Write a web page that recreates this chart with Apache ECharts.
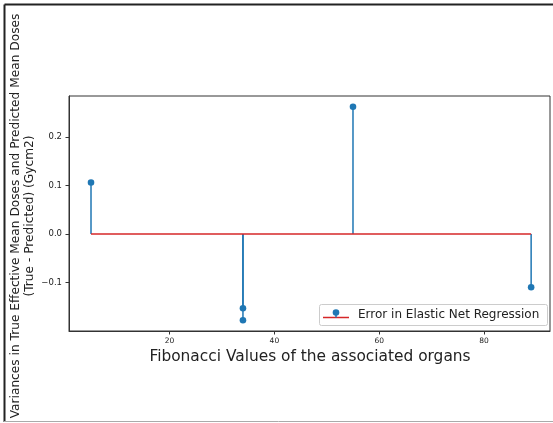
<!DOCTYPE html>
<html>
<head>
<meta charset="utf-8">
<script src="https://cdn.jsdelivr.net/npm/echarts@6/dist/echarts.min.js"></script>
<style>
  html, body { margin: 0; padding: 0; background: #fff; }
  #chart { width: 553px; height: 423px; }
</style>
</head>
<body>
<div id="chart"></div>
<script>
// Organ positions on the Fibonacci axis and the residual (true - predicted) for each
const fibValues = [5, 34, 34, 55, 89];
const residuals = [0.106, -0.153, -0.178, 0.262, -0.110];
const xTicks = [20, 40, 60, 80];
const yTicks = [-0.1, 0.0, 0.1, 0.2];
const seriesName = 'Error in Elastic Net Regression';

const STEM = '#1f77b4';
const BASE = '#d62728';
const FONT = 'DejaVu Sans';

const chart = echarts.init(document.getElementById('chart'), null, { renderer: 'canvas' });

const stemData = fibValues.map((x, i) => [x, residuals[i]]);
const baseData = [[fibValues[0], 0], [fibValues[fibValues.length - 1], 0]];

const fmtY = v => (v < 0 ? '\u2212' : '') + Math.abs(v).toFixed(1);

chart.setOption({
  animation: false,
  backgroundColor: '#fff',
  grid: {
    left: 69, top: 96, width: 481, height: 235,
    show: true, borderColor: '#333', borderWidth: 1, backgroundColor: 'transparent'
  },
  xAxis: {
    type: 'value', min: 0.8, max: 92.6,
    splitLine: { show: false },
    axisLine: { show: true, onZero: false, lineStyle: { color: '#333', width: 1 } },
    axisTick: { show: true, length: 3.5, customValues: xTicks, lineStyle: { color: '#333' } },
    axisLabel: { customValues: xTicks, fontFamily: FONT, fontSize: 7.5, color: '#222', margin: 6 }
  },
  yAxis: {
    type: 'value', min: -0.2, max: 0.284,
    splitLine: { show: false },
    axisLine: { show: true, onZero: false, lineStyle: { color: '#333', width: 1 } },
    axisTick: { show: true, length: 3.5, customValues: yTicks, lineStyle: { color: '#333' } },
    axisLabel: { customValues: yTicks, formatter: fmtY, fontFamily: FONT, fontSize: 8.5, color: '#222', margin: 7 }
  },
  series: [
    {
      // zero baseline spanning the first to the last organ
      type: 'line', data: baseData, symbol: 'none', silent: true, z: 3,
      lineStyle: { color: BASE, width: 1.5 }
    },
    {
      // stems with a dot at each residual
      name: seriesName,
      type: 'custom', data: stemData, z: 2,
      renderItem: (params, api) => {
        const top = api.coord([api.value(0), api.value(1)]);
        const bot = api.coord([api.value(0), 0]);
        return {
          type: 'group',
          children: [
            { type: 'line', shape: { x1: bot[0], y1: bot[1], x2: top[0], y2: top[1] },
              style: { stroke: STEM, lineWidth: 1.5 } },
            { type: 'circle', shape: { cx: top[0], cy: top[1], r: 3.3 },
              style: { fill: STEM }, z2: 10 }
          ]
        };
      }
    }
  ],
  graphic: [
    // outer frame
    { type: 'line', shape: { x1: 4.5, y1: 4.5, x2: 553, y2: 4.5 }, style: { stroke: '#222', lineWidth: 2 } },
    { type: 'line', shape: { x1: 4.5, y1: 4.5, x2: 4.5, y2: 422 }, style: { stroke: '#222', lineWidth: 2 } },
    { type: 'line', shape: { x1: 4, y1: 421.5, x2: 553, y2: 421.5 }, style: { stroke: '#aaa', lineWidth: 1 } },
    // y axis title (two lines)
    { type: 'text', x: 16, y: 216, rotation: Math.PI / 2,
      style: { text: 'Variances in True Effective Mean Doses and Predicted Mean Doses', fontFamily: FONT,
               fontSize: 12.2, fill: '#222', align: 'center', verticalAlign: 'middle' } },
    { type: 'text', x: 30, y: 216, rotation: Math.PI / 2,
      style: { text: '(True - Predicted) (Gycm2)', fontFamily: FONT,
               fontSize: 12.2, fill: '#222', align: 'center', verticalAlign: 'middle' } },
    // x axis title
    { type: 'text', x: 310, y: 357,
      style: { text: 'Fibonacci Values of the associated organs', fontFamily: FONT,
               fontSize: 15.4, fill: '#222', align: 'center', verticalAlign: 'middle' } },
    // legend
    { type: 'group', children: [
      { type: 'rect', shape: { x: 319.5, y: 304.5, width: 228, height: 21, r: 2 },
        style: { fill: 'rgba(255,255,255,0.85)', stroke: '#ccc', lineWidth: 1 } },
      { type: 'line', shape: { x1: 323, y1: 317.5, x2: 349, y2: 317.5 }, style: { stroke: BASE, lineWidth: 1.5 } },
      { type: 'line', shape: { x1: 336, y1: 317.5, x2: 336, y2: 313 }, style: { stroke: STEM, lineWidth: 1.5 } },
      { type: 'circle', shape: { cx: 336, cy: 312.5, r: 3.3 }, style: { fill: STEM } },
      { type: 'text', x: 358, y: 315,
        style: { text: seriesName, fontFamily: FONT, fontSize: 12, fill: '#222', align: 'left', verticalAlign: 'middle' } }
    ] }
  ]
});
</script>
</body>
</html>
